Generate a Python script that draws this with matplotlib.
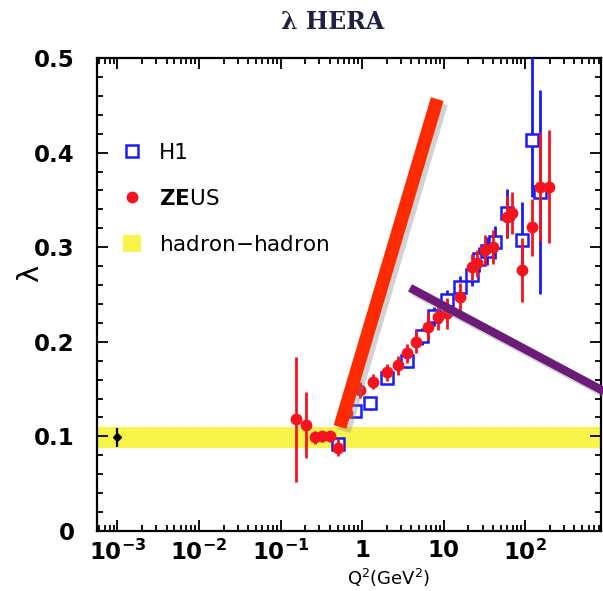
import matplotlib
matplotlib.use("Agg")
import matplotlib.pyplot as plt
import matplotlib.patheffects as pe
from matplotlib.lines import Line2D
from matplotlib.patches import Patch
from matplotlib.ticker import FixedLocator, LogLocator, MultipleLocator, NullFormatter

# ---- H1 measurements (open squares) ----
h1_q2 = [0.51, 0.82, 1.25, 2.0, 3.6, 5.5, 7.6, 11.0, 16.0, 22.3, 27.0, 34.0, 43.0, 59.8, 91.4, 121.0, 152.0]
h1_lam = [0.092, 0.127, 0.135, 0.162, 0.180, 0.206, 0.227, 0.244, 0.258, 0.271, 0.287, 0.296, 0.305, 0.336, 0.308, 0.413, 0.358]
h1_err_lo = [0.006, 0.006, 0.007, 0.007, 0.008, 0.009, 0.010, 0.011, 0.012, 0.012, 0.013, 0.015, 0.017, 0.026, 0.040, 0.060, 0.108]
h1_err_hi = [0.006, 0.006, 0.007, 0.007, 0.008, 0.009, 0.010, 0.011, 0.012, 0.012, 0.013, 0.015, 0.017, 0.026, 0.040, 0.100, 0.108]

# ---- ZEUS measurements (filled circles) ----
zeus_q2 = [0.155, 0.206, 0.265, 0.324, 0.405, 0.508, 0.66, 0.945, 1.36, 2.02, 2.76, 3.56, 4.6, 6.4,
           8.5, 11.0, 15.9, 22.3, 25.7, 32.1, 40.3, 59.8, 68.9, 91.4, 121.0, 152.0, 196.0]
zeus_lam = [0.118, 0.112, 0.099, 0.100, 0.100, 0.088, 0.125, 0.149, 0.158, 0.168, 0.175, 0.188, 0.200, 0.216,
            0.226, 0.230, 0.247, 0.279, 0.283, 0.297, 0.300, 0.332, 0.336, 0.276, 0.321, 0.364, 0.364]
zeus_err = [0.066, 0.035, 0.007, 0.006, 0.006, 0.009, 0.008, 0.008, 0.008, 0.009, 0.010, 0.010, 0.012, 0.014,
            0.014, 0.016, 0.015, 0.014, 0.014, 0.016, 0.018, 0.022, 0.022, 0.034, 0.030, 0.057, 0.060]

# ---- hadron-hadron reference value ----
hh_q2 = [1e-3]
hh_lam = [0.099]
hh_err = [0.010]
hh_band = (0.088, 0.110)

# axis ranges and tick labels
x_range = (10 ** -3.25, 10 ** 2.93)
y_range = (0.0, 0.5)
x_major = [1e-3, 1e-2, 1e-1, 1, 10, 100]
x_labels = [r"$\mathbf{10}^{\mathbf{-3}}$", r"$\mathbf{10}^{\mathbf{-2}}$", r"$\mathbf{10}^{\mathbf{-1}}$",
            r"$\mathbf{1}$", r"$\mathbf{10}$", r"$\mathbf{10}^{\mathbf{2}}$"]
y_major = [0, 0.1, 0.2, 0.3, 0.4, 0.5]
y_labels = ["0", "0.1", "0.2", "0.3", "0.4", "0.5"]

# hand-drawn highlighter strokes (axes fraction coordinates)
stroke_red = ([0.675, 0.482], [0.913, 0.220])
stroke_purple = ([0.621, 1.01], [0.514, 0.293])

BLUE = "#1b1bf5"
RED = "#f5141e"
YELLOW = "#f8f44a"

plt.rcParams["mathtext.fontset"] = "dejavusans"
fig = plt.figure(figsize=(6.03, 5.91), dpi=100)
ax = fig.add_axes([0.161, 0.1015, 0.8357, 0.8004])

ax.set_xscale("log")
ax.set_xlim(*x_range)
ax.set_ylim(*y_range)

# band of the hadron-hadron value
ax.axhspan(hh_band[0], hh_band[1], color=YELLOW, lw=0, zorder=1)
ax.errorbar(hh_q2, hh_lam, yerr=hh_err, fmt="D", color="black", ms=4.5, elinewidth=1.6,
            capsize=0, zorder=3)

# H1
ax.errorbar(h1_q2, h1_lam, yerr=[h1_err_lo, h1_err_hi], fmt="s", mfc="white", mec=BLUE,
            mew=1.8, ms=9, ecolor=BLUE, elinewidth=2.0, capsize=0, zorder=4)
# ZEUS
ax.errorbar(zeus_q2, zeus_lam, yerr=zeus_err, fmt="o", mfc=RED, mec=RED, ms=7.5,
            ecolor=RED, elinewidth=2.0, capsize=0, zorder=5)

# ticks
ax.xaxis.set_major_locator(FixedLocator(x_major))
ax.set_xticklabels(x_labels)
ax.xaxis.set_minor_locator(LogLocator(base=10, subs=range(2, 10), numticks=20))
ax.xaxis.set_minor_formatter(NullFormatter())
ax.yaxis.set_major_locator(FixedLocator(y_major))
ax.set_yticklabels(y_labels)
ax.yaxis.set_minor_locator(MultipleLocator(0.02))
ax.tick_params(which="both", direction="in", top=True, right=True, width=1.3, color="black")
ax.tick_params(which="major", length=8)
ax.tick_params(which="minor", length=4)
ax.tick_params(axis="y", which="major", pad=16, labelsize=16.5)
ax.tick_params(axis="x", which="major", pad=6, labelsize=16.5)
for lab in ax.get_yticklabels():
    lab.set_fontweight("bold")
for sp in ax.spines.values():
    sp.set_linewidth(1.6)

ax.set_ylabel("λ", fontsize=21, rotation=90)
ax.yaxis.set_label_coords(-0.105, 0.545)
fig.text(0.645, 0.022, r"Q$^2$(GeV$^2$)", fontsize=13, ha="center", va="center")
fig.text(0.552, 0.963, "λ HERA", family="DejaVu Serif", fontweight="bold", fontsize=17,
         color="#202040", ha="center", va="center")

# legend
handles = [
    Line2D([], [], marker="s", ls="none", mfc="white", mec=BLUE, mew=1.8, ms=9),
    Line2D([], [], marker="o", ls="none", mfc=RED, mec=RED, ms=7.5),
    Patch(facecolor=YELLOW, edgecolor="none"),
]
labels = ["H1", r"$\mathbf{ZE}$US", "hadron$-$hadron"]
leg = ax.legend(handles, labels, loc="upper left", bbox_to_anchor=(0.035, 0.838), frameon=False,
                fontsize=15.5, handlelength=0.8, handleheight=0.8, handletextpad=0.85,
                labelspacing=1.2, borderaxespad=0)

# highlighter strokes drawn over the panel
shadow = [pe.SimpleLineShadow(offset=(3, -3), shadow_color="gray", alpha=0.35), pe.Normal()]
ax.plot(*stroke_red, transform=ax.transAxes, color="#ff2a00", lw=9.5, solid_capstyle="butt",
        clip_on=False, zorder=10, path_effects=shadow)
ax.plot(*stroke_purple, transform=ax.transAxes, color="#6c1c78", lw=6, solid_capstyle="butt",
        clip_on=False, zorder=10, path_effects=shadow)

fig.savefig("out.png", dpi=100)
